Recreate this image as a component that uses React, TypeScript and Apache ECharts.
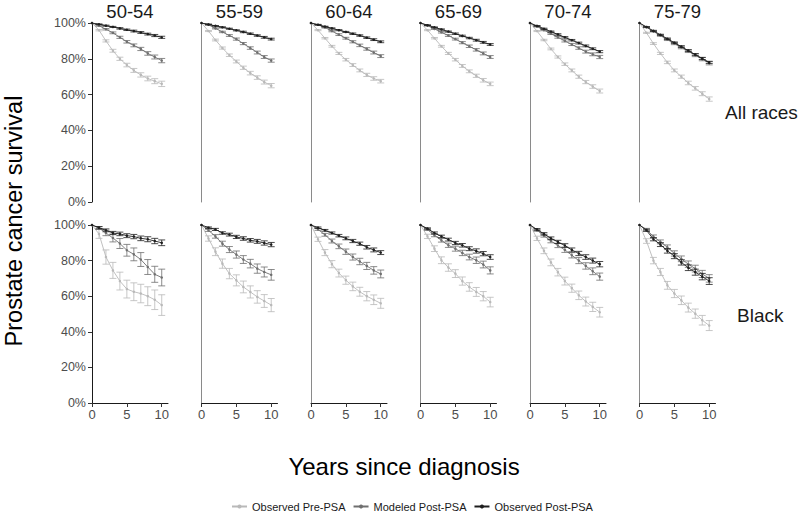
import React, { useEffect, useRef } from "react";
import * as echarts from "echarts";

const years = [0, 1, 2, 3, 4, 5, 6, 7, 8, 9, 10];
const ageGroups = ["50-54", "55-59", "60-64", "65-69", "70-74", "75-79"];
const races = ["All races", "Black"];
const seriesNames = ["Observed Pre-PSA", "Modeled Post-PSA", "Observed Post-PSA"];
const seriesColors = ["#b9b9b9", "#6f6f6f", "#1e1e1e"];
const xTickValues = [0, 5, 10];

// ---- All races (percent survival) ----
const allPre = [
  [100, 96, 90, 84.5, 80, 76.5, 73.5, 71, 69, 67.5, 66],
  [100, 95.5, 90.5, 86, 82, 78.5, 75, 72, 69.5, 67, 65],
  [100, 96, 91.5, 87, 83, 79.5, 76.5, 73.5, 71, 69, 67.5],
  [100, 96, 91.5, 87, 83, 79.5, 76, 73, 70.5, 68, 66],
  [100, 95.5, 90.5, 85.5, 81, 77, 73.5, 70, 67, 64.5, 62],
  [100, 94.5, 88.5, 83, 78, 73.5, 70, 66.5, 63.5, 60.5, 57.5],
];
const allMod = [
  [100, 98.5, 96.5, 94.5, 92, 89.5, 87.5, 85.5, 83, 81, 79],
  [100, 99, 97, 95, 93, 91, 88.5, 86, 83.5, 81, 79],
  [100, 99, 97.5, 95.5, 93.5, 91.5, 89.5, 87.5, 85.5, 83.5, 81.5],
  [100, 98.5, 96.7, 94.8, 93, 91, 89, 87, 85, 83, 81],
  [100, 98, 96, 94, 92, 90, 88, 86, 84, 82.5, 81],
  [100, 97.6, 95.3, 93, 90.7, 88.5, 86.3, 84.2, 82, 79.8, 77.5],
];
const allPost = [
  [100, 99.3, 98.5, 97.8, 97, 96.2, 95.5, 94.7, 93.8, 93, 92],
  [100, 99.2, 98.4, 97.6, 96.8, 95.9, 95, 94, 93, 92, 91],
  [100, 99, 98, 97, 96, 95, 94, 93, 91.8, 90.7, 89.5],
  [100, 98.8, 97.6, 96.4, 95.2, 94, 92.8, 91.6, 90.4, 89.2, 88],
  [100, 98.4, 96.8, 95.2, 93.6, 92, 90.4, 88.8, 87.2, 85.6, 84],
  [100, 97.8, 95.6, 93.4, 91.2, 89, 86.8, 84.6, 82.4, 80.2, 78],
];
const allPreErr = [
  [0, 0.4, 0.6, 0.8, 0.9, 1.0, 1.1, 1.2, 1.3, 1.4, 1.5],
  [0, 0.3, 0.5, 0.6, 0.7, 0.8, 0.9, 1.0, 1.0, 1.1, 1.2],
  [0, 0.3, 0.4, 0.5, 0.6, 0.7, 0.8, 0.8, 0.9, 1.0, 1.0],
  [0, 0.3, 0.4, 0.5, 0.6, 0.7, 0.8, 0.8, 0.9, 1.0, 1.0],
  [0, 0.3, 0.4, 0.5, 0.6, 0.7, 0.8, 0.9, 0.9, 1.0, 1.1],
  [0, 0.3, 0.5, 0.6, 0.7, 0.8, 0.9, 1.0, 1.0, 1.1, 1.2],
];
const allModErr = [
  [0, 0.3, 0.4, 0.5, 0.6, 0.7, 0.8, 0.9, 1.0, 1.1, 1.2],
  [0, 0.2, 0.3, 0.4, 0.5, 0.6, 0.6, 0.7, 0.8, 0.8, 0.9],
  [0, 0.2, 0.3, 0.4, 0.5, 0.5, 0.6, 0.7, 0.7, 0.8, 0.8],
  [0, 0.2, 0.3, 0.4, 0.5, 0.5, 0.6, 0.7, 0.7, 0.8, 0.8],
  [0, 0.2, 0.3, 0.4, 0.5, 0.6, 0.6, 0.7, 0.8, 0.8, 0.9],
  [0, 0.2, 0.3, 0.4, 0.5, 0.6, 0.7, 0.7, 0.8, 0.9, 0.9],
];
const allPostErr = [
  [0, 0.2, 0.3, 0.3, 0.4, 0.4, 0.5, 0.5, 0.5, 0.6, 0.6],
  [0, 0.2, 0.2, 0.3, 0.3, 0.3, 0.4, 0.4, 0.4, 0.5, 0.5],
  [0, 0.2, 0.2, 0.3, 0.3, 0.3, 0.4, 0.4, 0.4, 0.5, 0.5],
  [0, 0.2, 0.2, 0.3, 0.3, 0.4, 0.4, 0.4, 0.5, 0.5, 0.5],
  [0, 0.2, 0.3, 0.3, 0.4, 0.4, 0.4, 0.5, 0.5, 0.5, 0.6],
  [0, 0.2, 0.3, 0.3, 0.4, 0.4, 0.5, 0.5, 0.5, 0.6, 0.6],
];

// ---- Black (percent survival) ----
const blackPre = [
  [100, 95, 82, 74.5, 68.5, 64, 62.5, 61.5, 60, 58, 55],
  [100, 92.4, 85, 78.3, 72.7, 68.9, 65.2, 62.4, 59.6, 57.3, 55],
  [100, 92, 84.5, 78, 73, 69, 65.5, 62.5, 60, 58, 56],
  [100, 93.6, 86.7, 80.2, 76.1, 72.7, 68.5, 65.2, 62.4, 60, 56.7],
  [100, 92.5, 85.5, 79, 73.5, 68.5, 64.5, 60.5, 57, 54, 51],
  [100, 91, 80, 73.6, 66.1, 61.5, 57.7, 53.6, 50.2, 46.5, 43.5],
];
const blackMod = [
  [100, 98.3, 95.5, 92.7, 89.6, 85.8, 83.5, 80.6, 76.4, 72.3, 70.5],
  [100, 97, 93.6, 89.5, 86.2, 83.4, 80.6, 78.3, 75.5, 73.6, 72],
  [100, 97.5, 94.5, 91, 88, 85, 82, 79.5, 77, 74.5, 72.5],
  [100, 97.4, 94.2, 91.4, 88.6, 86.7, 84.3, 82, 80.2, 77.8, 74.5],
  [100, 97, 94, 91, 88.5, 86, 83, 80, 77, 74, 71],
  [100, 97.5, 93.5, 90.5, 87.5, 84, 81, 78, 75.5, 72.5, 70],
];
const blackPost = [
  [100, 98.5, 97, 95.5, 95, 94, 93.5, 92.5, 92, 91, 90],
  [100, 98.5, 97.5, 95.5, 94.6, 93.3, 92.4, 91.4, 90.8, 89.9, 89],
  [100, 98.5, 97, 95.5, 94, 92.5, 91, 89.5, 87.5, 86, 84.5],
  [100, 98, 95.5, 93.6, 91.8, 89.9, 88.6, 86.7, 85.4, 83.9, 82],
  [100, 97.5, 95, 92.5, 90.5, 88.5, 86, 84, 82, 80, 78],
  [100, 97, 92, 89, 85.5, 82.5, 79, 76, 73.5, 71, 68.5],
];
const blackPreErr = [
  [0, 2.5, 4, 4.5, 5, 5, 5, 5.2, 5.3, 5.5, 5.8],
  [0, 1.5, 2.2, 2.6, 2.9, 3.1, 3.3, 3.4, 3.5, 3.6, 3.7],
  [0, 1.2, 1.7, 2.0, 2.2, 2.3, 2.4, 2.5, 2.6, 2.7, 2.8],
  [0, 1.2, 1.6, 1.9, 2.1, 2.2, 2.3, 2.4, 2.5, 2.6, 2.7],
  [0, 1.2, 1.6, 1.9, 2.1, 2.2, 2.3, 2.4, 2.5, 2.6, 2.7],
  [0, 1.3, 1.8, 2.0, 2.2, 2.3, 2.4, 2.5, 2.6, 2.7, 2.8],
];
const blackModErr = [
  [0, 0.8, 1.5, 2.2, 2.8, 3.3, 3.6, 3.9, 4.2, 4.5, 4.7],
  [0, 0.6, 1.0, 1.4, 1.7, 2.0, 2.2, 2.4, 2.6, 2.8, 3.0],
  [0, 0.5, 0.8, 1.1, 1.3, 1.5, 1.7, 1.8, 2.0, 2.1, 2.2],
  [0, 0.5, 0.8, 1.0, 1.2, 1.4, 1.5, 1.6, 1.8, 1.9, 2.0],
  [0, 0.5, 0.8, 1.0, 1.2, 1.4, 1.5, 1.7, 1.8, 1.9, 2.0],
  [0, 0.6, 0.9, 1.1, 1.3, 1.5, 1.6, 1.8, 1.9, 2.0, 2.1],
];
const blackPostErr = [
  [0, 0.6, 0.8, 0.9, 1.0, 1.1, 1.2, 1.3, 1.4, 1.5, 1.6],
  [0, 0.4, 0.6, 0.7, 0.8, 0.9, 1.0, 1.0, 1.1, 1.2, 1.2],
  [0, 0.4, 0.5, 0.6, 0.7, 0.8, 0.9, 0.9, 1.0, 1.1, 1.1],
  [0, 0.4, 0.6, 0.7, 0.8, 0.9, 1.0, 1.1, 1.2, 1.2, 1.3],
  [0, 0.5, 0.7, 0.8, 0.9, 1.0, 1.1, 1.2, 1.3, 1.4, 1.5],
  [0, 0.6, 0.9, 1.1, 1.3, 1.4, 1.5, 1.6, 1.7, 1.8, 1.9],
];

const rowValues = [
  [allPre, allMod, allPost],
  [blackPre, blackMod, blackPost],
];
const rowErrors = [
  [allPreErr, allModErr, allPostErr],
  [blackPreErr, blackModErr, blackPostErr],
];

const FONT = "Liberation Sans, Arial, Helvetica, sans-serif";

function buildOption() {
  const colLeft = (c: number) => 92 + 109.5 * c;
  const panelW = 76;
  const rowTop = [23, 225];
  const rowH = [179, 178];

  const grids: any[] = [];
  const xAxes: any[] = [];
  const yAxes: any[] = [];
  const series: any[] = [];
  const graphics: any[] = [];

  for (let r = 0; r < 2; r++) {
    for (let c = 0; c < 6; c++) {
      const idx = r * 6 + c;
      grids.push({ left: colLeft(c), top: rowTop[r], width: panelW, height: rowH[r] });
      const isBottom = r === 1;
      xAxes.push({
        type: "value",
        gridIndex: idx,
        min: 0,
        max: 10.9,
        interval: 5,
        axisLine: { show: isBottom, lineStyle: { color: "#1a1a1a", width: 1 } },
        axisTick: {
          show: isBottom,
          length: 4,
          customValues: xTickValues,
          lineStyle: { color: "#333" },
        },
        axisLabel: {
          show: isBottom,
          customValues: xTickValues,
          margin: 5,
          fontSize: 13,
          color: "#4d4d4d",
          fontFamily: FONT,
        },
        splitLine: { show: false },
      });
      const isLeft = c === 0;
      yAxes.push({
        type: "value",
        gridIndex: idx,
        min: 0,
        max: 100,
        interval: 20,
        axisLine: { show: true, lineStyle: { color: isLeft ? "#1a1a1a" : "#8a8a8a", width: 1 } },
        axisTick: { show: isLeft, length: 4, lineStyle: { color: "#333" } },
        axisLabel: {
          show: isLeft,
          margin: 6,
          fontSize: 12.5,
          color: "#4d4d4d",
          fontFamily: FONT,
          formatter: (v: number) => `${v}%`,
        },
        splitLine: { show: false },
      });

      for (let s = 0; s < 3; s++) {
        const vals = rowValues[r][s][c];
        const errs = rowErrors[r][s][c];
        const color = seriesColors[s];
        series.push({
          type: "line",
          name: seriesNames[s],
          xAxisIndex: idx,
          yAxisIndex: idx,
          data: years.map((y, i) => [y, vals[i]]),
          symbol: "circle",
          symbolSize: 2.5,
          showSymbol: true,
          lineStyle: { color, width: 0.9 },
          itemStyle: { color },
          z: 2 + s,
          silent: true,
        });
        series.push({
          type: "custom",
          name: "err-" + s,
          xAxisIndex: idx,
          yAxisIndex: idx,
          data: years
            .map((y, i) => [y, vals[i] - errs[i], vals[i] + errs[i], errs[i]])
            .filter((d) => d[3] > 0),
          encode: { x: 0, y: [1, 2] },
          clip: false,
          z: 2 + s,
          silent: true,
          renderItem: (params: any, api: any) => {
            const x = api.value(0);
            const lo = api.value(1);
            const hi = api.value(2);
            const top = api.coord([x, hi]);
            const bot = api.coord([x, lo]);
            const hw = api.size([1, 0])[0] * 0.5;
            const style = { stroke: color, lineWidth: 0.8, fill: "none" };
            return {
              type: "group",
              children: [
                { type: "line", shape: { x1: top[0], y1: top[1], x2: bot[0], y2: bot[1] }, style },
                { type: "line", shape: { x1: top[0] - hw, y1: top[1], x2: top[0] + hw, y2: top[1] }, style },
                { type: "line", shape: { x1: bot[0] - hw, y1: bot[1], x2: bot[0] + hw, y2: bot[1] }, style },
              ],
            };
          },
        });
      }
    }
  }

  // strip labels (age groups)
  ageGroups.forEach((g, c) => {
    graphics.push({
      type: "text",
      x: colLeft(c) + panelW / 2,
      y: 11,
      style: {
        text: g,
        fontSize: 18.5,
        fontFamily: FONT,
        fill: "#1a1a1a",
        textAlign: "center",
        textVerticalAlign: "middle",
      },
    });
  });
  // row labels
  const rowLabelY = [112, 315];
  races.forEach((rc, r) => {
    graphics.push({
      type: "text",
      x: rc === "Black" ? 737 : 725,
      y: rowLabelY[r],
      style: {
        text: rc,
        fontSize: 19,
        fontFamily: FONT,
        fill: "#1a1a1a",
        textAlign: "left",
        textVerticalAlign: "middle",
      },
    });
  });
  // axis titles
  graphics.push({
    type: "text",
    x: 14,
    y: 221,
    rotation: Math.PI / 2,
    style: {
      text: "Prostate cancer survival",
      fontSize: 23.5,
      fontFamily: FONT,
      fill: "#000",
      textAlign: "center",
      textVerticalAlign: "middle",
    },
  });
  graphics.push({
    type: "text",
    x: 404,
    y: 466,
    style: {
      text: "Years since diagnosis",
      fontSize: 24,
      fontFamily: FONT,
      fill: "#000",
      textAlign: "center",
      textVerticalAlign: "middle",
    },
  });

  return {
    animation: false,
    backgroundColor: "#ffffff",
    grid: grids,
    xAxis: xAxes,
    yAxis: yAxes,
    series,
    graphic: graphics,
    legend: {
      data: seriesNames,
      left: 231,
      top: 500,
      padding: 0,
      itemWidth: 15,
      itemHeight: 5,
      itemGap: 7,
      selectedMode: false,
      textStyle: { fontSize: 11, fontFamily: FONT, color: "#1a1a1a", lineHeight: 13 },
    },
  };
}

export default function App() {
  const ref = useRef<HTMLDivElement>(null);
  useEffect(() => {
    if (!ref.current) return;
    const chart = echarts.init(ref.current, undefined, { renderer: "svg" });
    chart.setOption(buildOption() as any);
    return () => chart.dispose();
  }, []);
  return (
    <div
      ref={ref}
      style={{ position: "fixed", left: 0, top: 0, width: 800, height: 513, background: "#fff" }}
    />
  );
}
